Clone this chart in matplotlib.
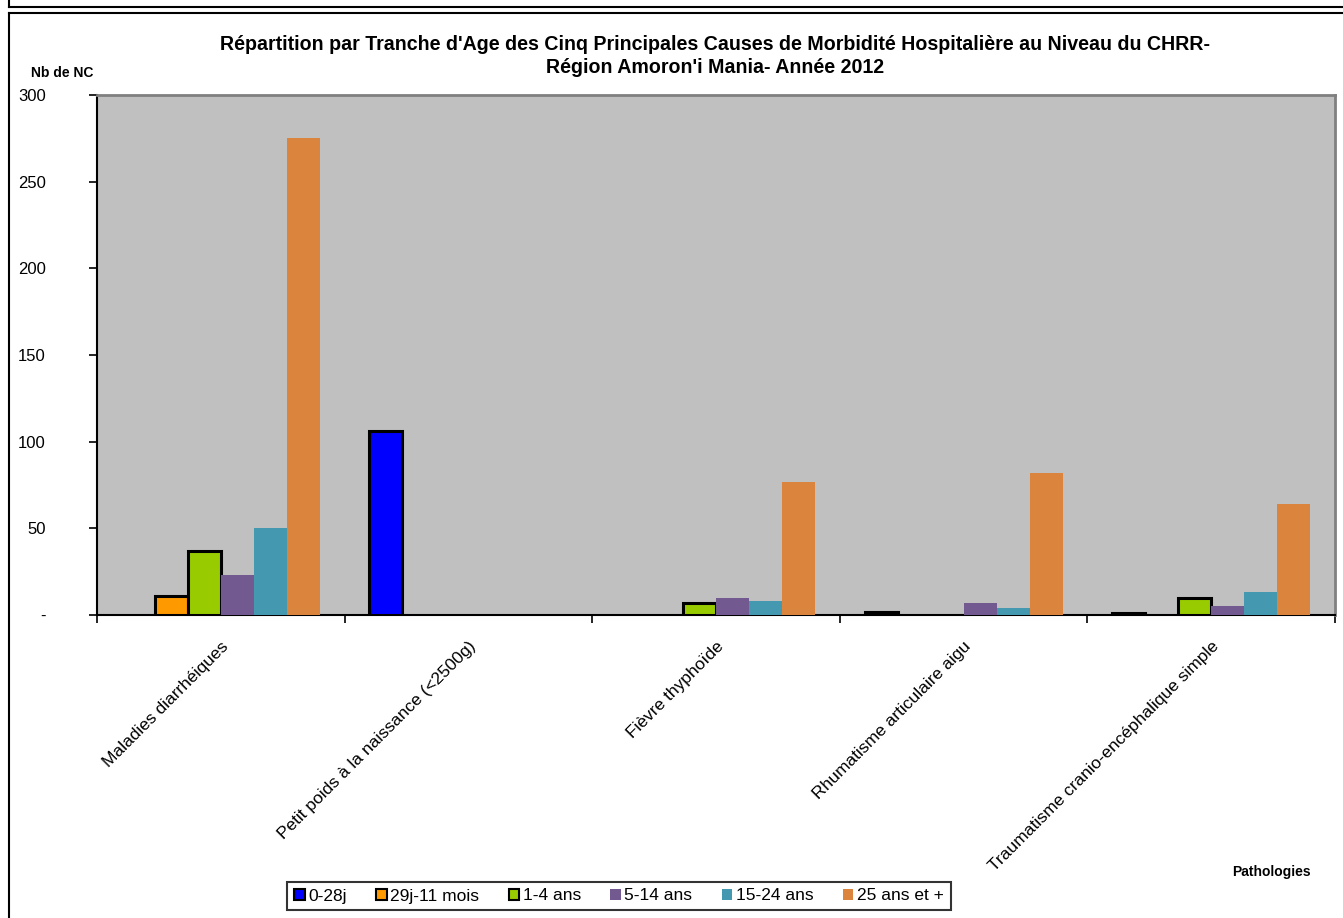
import numpy as np
import matplotlib.pyplot as plt

plt.rcParams['font.family'] = ['Liberation Sans', 'DejaVu Sans']

categories = ["Maladies diarrhéiques", "Petit poids à la naissance (<2500g)",
              "Fièvre thyphoïde", "Rhumatisme articulaire aigu",
              "Traumatisme cranio-encéphalique simple"]
series = ["0-28j", "29j-11 mois", "1-4 ans", "5-14 ans", "15-24 ans", "25 ans et +"]
v_0_28j = [0, 106, 0, 2, 1]
v_29j_11m = [11, 0, 0, 0, 0]
v_1_4 = [37, 0, 7, 0, 10]
v_5_14 = [23, 0, 10, 7, 5]
v_15_24 = [50, 0, 8, 4, 13]
v_25plus = [275, 0, 77, 82, 64]
values = [v_0_28j, v_29j_11m, v_1_4, v_5_14, v_15_24, v_25plus]
colors = ['#0000FF', '#FF9900', '#99CC00', '#725990', '#4499B0', '#DB843D']
edged = [True, True, True, False, False, False]

fig = plt.figure(figsize=(13.43, 9.18), dpi=100)
ax = fig.add_axes([97/1343, 1-615/918, (1335-97)/1343, (615-95)/918])
ax.set_facecolor('#C0C0C0')

x = np.arange(len(categories))
w = 0.8/6
handles = []
for i, (s, vals) in enumerate(zip(series, values)):
    pos = x - 0.4 + w*(i+0.5)
    h = [v if v > 0 else np.nan for v in vals]
    if edged[i]:
        b = ax.bar(pos, h, w, color=colors[i], edgecolor='black', linewidth=2.2, label=s, zorder=3)
    else:
        b = ax.bar(pos, h, w, color=colors[i], linewidth=0, label=s, zorder=3)
    handles.append(b)

ax.set_xlim(-0.5, len(categories)-0.5)
ax.set_ylim(0, 300)
ax.set_yticks([0, 50, 100, 150, 200, 250, 300])
ax.set_yticklabels(['-', '50', '100', '150', '200', '250', '300'], fontsize=12)
ax.set_xticks(np.arange(-0.5, len(categories)), minor=False)
ax.set_xticklabels([])
ax.set_xticks(x, minor=True)
ax.set_xticklabels(categories, minor=True, rotation=45, ha='right', rotation_mode='anchor', fontsize=12.5)
ax.tick_params(axis='x', which='minor', length=0, pad=17)
ax.tick_params(axis='x', which='major', direction='out', length=6, width=1.2)
ax.tick_params(axis='y', direction='out', length=6, width=1.2, pad=31)

ax.spines['left'].set_linewidth(1.5)
ax.spines['bottom'].set_linewidth(1.5)
ax.spines['top'].set_color('#808080')
ax.spines['right'].set_color('#808080')
ax.spines['top'].set_linewidth(2)
ax.spines['right'].set_linewidth(2)

fig.text(0.5*(219+1212)/1343, 1-56/918,
         "Répartition par Tranche d'Age des Cinq Principales Causes de Morbidité Hospitalière au Niveau du CHRR-\nRégion Amoron'i Mania- Année 2012",
         ha='center', va='center', fontsize=14.1, fontweight='bold', linespacing=1.3)
fig.text(31/1343, 1-73/918, "Nb de NC", ha='left', va='center', fontsize=10, fontweight='bold')
fig.text(1311/1343, 1-872/918, "Pathologies", ha='right', va='center', fontsize=10, fontweight='bold')

leg = fig.legend(handles=handles, loc='center', bbox_to_anchor=(619/1343, 1-896/918), ncol=6,
                 frameon=True, fancybox=False, edgecolor='black', fontsize=12.5,
                 handlelength=0.6, handleheight=0.6, handletextpad=0.2, columnspacing=1.7,
                 borderpad=0.4)
leg.get_frame().set_linewidth(1.5)
for h in leg.legend_handles:
    h.set_linewidth(1.5)

# outer frames
fig.add_artist(plt.Line2D([9/1343, 1], [1-7/918, 1-7/918], color='black', lw=1.5))
fig.add_artist(plt.Line2D([9/1343, 9/1343], [1, 1-7/918], color='black', lw=1.5))
fig.add_artist(plt.Line2D([9/1343, 1], [1-13/918, 1-13/918], color='black', lw=1.5))
fig.add_artist(plt.Line2D([9/1343, 9/1343], [1-13/918, 0], color='black', lw=1.5))

fig.savefig('out.png', dpi=100)
